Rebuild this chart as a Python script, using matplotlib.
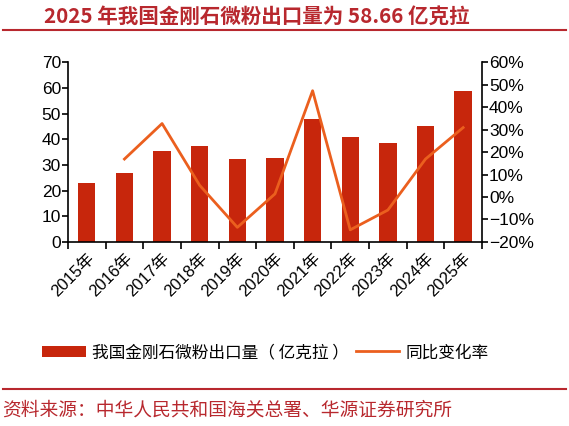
import numpy as np
import matplotlib.pyplot as plt
from matplotlib.ticker import FuncFormatter

plt.rcParams['font.family'] = ['Liberation Sans', 'Noto Sans CJK SC', 'DejaVu Sans']
plt.rcParams['axes.unicode_minus'] = True

years = ['2015年', '2016年', '2017年', '2018年', '2019年', '2020年',
         '2021年', '2022年', '2023年', '2024年', '2025年']
export = [22.8, 26.7, 35.4, 37.2, 32.2, 32.6, 48.0, 41.0, 38.6, 45.0, 58.66]
yoy = [None, 16.9, 32.7, 5.2, -13.5, 1.4, 47.3, -14.6, -5.8, 16.9, 30.9]

bar_color = '#C7260C'
line_color = '#EB5F1E'
red = '#B8282E'

fig = plt.figure(figsize=(5.69, 4.26), dpi=100)
ax = fig.add_axes([0.1195, 0.432, 0.7275, 0.422])
x = np.arange(len(years))
ax.bar(x, export, width=0.46, color=bar_color, label='我国金刚石微粉出口量（ 亿克拉 ）', zorder=2)
ax.set_xlim(-0.5, len(years) - 0.5)
ax.set_ylim(0, 70)
ax.set_yticks(range(0, 71, 10))
ax.set_xticks(x)
ax.set_xticklabels(years, rotation=45, ha='right', rotation_mode='anchor', fontsize=12)
ax.set_xticks(np.arange(-0.5, len(years), 1), minor=True)
ax.tick_params(axis='x', which='major', length=0, pad=6)
ax.tick_params(axis='x', which='minor', length=5, width=1.2, direction='out')
ax.tick_params(axis='y', labelsize=12.5, length=4, width=1.2, pad=1)
for s in ['top', 'right']:
    ax.spines[s].set_visible(False)
for s in ['left', 'bottom']:
    ax.spines[s].set_linewidth(1.2)

ax2 = ax.twinx()
xl = [i for i, v in enumerate(yoy) if v is not None]
yl = [v for v in yoy if v is not None]
ax2.plot(xl, yl, color=line_color, lw=2, label='同比变化率')
ax2.set_ylim(-20, 60)
ax2.set_yticks(range(-20, 61, 10))
ax2.yaxis.set_major_formatter(FuncFormatter(lambda v, p: f'{int(v)}%'.replace('-', '\u2212')))
ax2.tick_params(axis='y', labelsize=12.5, length=4, width=1.2, pad=1)
for s in ['top', 'left', 'bottom']:
    ax2.spines[s].set_visible(False)
ax2.spines['right'].set_linewidth(1.2)

h1, l1 = ax.get_legend_handles_labels()
h2, l2 = ax2.get_legend_handles_labels()
fig.legend(h1 + h2, l1 + l2, loc='center', bbox_to_anchor=(0.467, 0.172), ncol=2,
           frameon=False, handlelength=2.6, handletextpad=0.4, columnspacing=0.4,
           prop={'family': ['Noto Sans CJK SC'], 'size': 12})

fig.text(0.452, 0.963, '2025 年我国金刚石微粉出口量为 58.66 亿克拉', ha='center', va='center',
         fontsize=14.8, fontweight='bold', color=red, family=['Noto Sans CJK SC'])
fig.add_artist(plt.Line2D([0.005, 0.995], [0.93, 0.93], color=red, lw=1.5))
fig.add_artist(plt.Line2D([0.005, 0.995], [0.087, 0.087], color=red, lw=1.5))
fig.text(0.003, 0.038, '资料来源：中华人民共和国海关总署、华源证券研究所', ha='left', va='center',
         fontsize=13.5, color=red, family=['Noto Sans CJK SC'])

fig.savefig('out.png', dpi=100)
